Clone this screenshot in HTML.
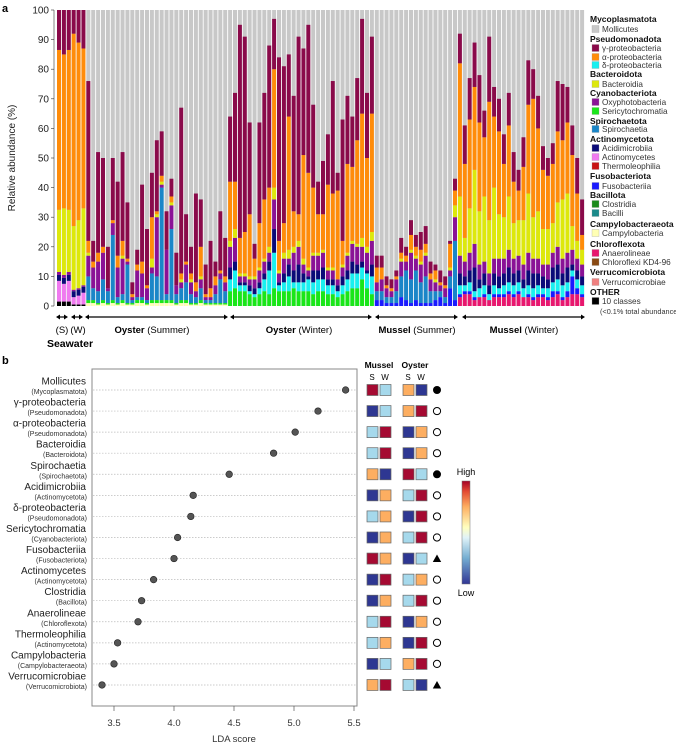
<!DOCTYPE html>
<html><head><meta charset="utf-8"><style>
body{margin:0;background:#fff;width:676px;height:743px;overflow:hidden;font-family:"Liberation Sans",sans-serif}
svg{display:block}
</style></head><body>
<svg id="fig" width="676" height="743" viewBox="0 0 676 743" font-family="Liberation Sans, sans-serif">
<text x="2" y="12" font-size="11" font-weight="bold">a</text>
<text x="2" y="364" font-size="11" font-weight="bold">b</text>
<g id="bars"></g>
<g id="yaxis"></g>
<text transform="translate(15,158) rotate(-90)" text-anchor="middle" font-size="10" fill="#222">Relative abundance (%)</text>
<g id="groups"></g>
<g id="legend"></g>
<g id="lda"></g>
<g id="heat"></g>
<defs><linearGradient id="cb" x1="0" y1="1" x2="0" y2="0">
<stop offset="0" stop-color="#313695"/><stop offset="0.25" stop-color="#74add1"/><stop offset="0.45" stop-color="#e0f3f8"/><stop offset="0.55" stop-color="#ffffbf"/><stop offset="0.75" stop-color="#fdae61"/><stop offset="0.9" stop-color="#e34a33"/><stop offset="1" stop-color="#a50026"/></linearGradient></defs>
<rect x="462" y="481" width="8" height="103" fill="url(#cb)" stroke="#777" stroke-width="0.5"/>
<text x="466" y="475" font-size="9" text-anchor="middle">High</text>
<text x="466" y="596" font-size="9" text-anchor="middle">Low</text>
</svg>
<script>
// Panel a data (108 samples): SW 6, Oyster Summer 29, Oyster Winter 30, Mussel Summer 17, Mussel Winter 26
const oth=[1.5,1.5,1.5,0.5,0.5,0.5, 0,0,0,0,0,0,0,0,0,0,0,0,0,0,0,0,0,0,0,0,0,0,0,0,0,0,0,0,0, 0,0,0,0,0,0,0,0,0,0,0,0,0,0,0,0,0,0,0,0,0,0,0,0,0,0,0,0,0,0, 0,0,0,0,0,0,0,0,0,0,0,0,0,0,0,0,0, 0,0,0,0,0,0,0,0,0,0,0,0,0,0,0,0,0,0,0,0,0,0,0,0,0,0];
const ana=[0,0,0,0,0,0, 0,0,0,0,0,0,0,0,0,0,0,0,0,0,0,0,0,0,0,0,0,0,0,0,0,0,0,0,0, 0,0,0,0,0,0,0,0,0,0,0,0,0,0,0,0,0,0,0,0,0,0,0,0,0,0,0,0,0,0, 0,0,0,0,0,0,0,0,0,0,0,0,0,0,0,0,0, 3,4,4,2,3,3,2,3,3,3,4,3,4,3,3,2,3,3,2,3,4,2,3,4,4,3];
const ser=[0,0,0,0,0,0, 1,1,0.5,1,0.5,1,0.5,1,0.5,0.5,1,1,0.5,1,1,1,1,1,0.5,1,1,0.5,0.5,1,0.5,0.5,0.5,0.5,0.5, 5,6,5,5,4,3,4,5,4,6,5,5,5,6,5,5,5,4,5,5,4,4,3,4,5,6,6,9,6,4, 0,0,0,0,0,0,0,0,0,0,0,0,0,0,0,0,0, 0,0,0,0,0,0,0,0,0,0,0,0,0,0,0,0,0,0,0,0,0,0,0,0,0,0];
const cam=[0,0,0,0,0,0, 1,1,0.5,1,0.5,1,0.5,1,0.5,0.5,1,1,0.5,1,1,1,1,1,0.5,1,1,0.5,0.5,1,0.5,0.5,0.5,0.5,0.5, 0,0,0,0,0,0,0,0,0,0,0,0,0,0,0,0,0,0,0,0,0,0,0,0,0,0,0,0,0,0, 0,0,0,0,0,0,0,0,0,0,0,0,0,0,0,0,0, 0,0,0,0,0,0,0,0,0,0,0,0,0,0,0,0,0,0,0,0,0,0,0,0,0,0];
const fus=[0,0,0,0,0,0, 0,0,0,0,0,0,0,0,0,0,0,0,0,0,0,0,0,0,0,0,0,0,0,0,0,0,0,0,0, 0,0,0,0,0,0,0,0,0,0,0,0,0,0,0,0,0,0,0,0,0,0,0,0,0,0,0,0,0,0, 2,2,1,1,1,3,2,1,2,1,1,1,2,3,1,6,2, 1,1,1,1,0,1,0,1,1,1,1,1,1,0,1,1,1,1,1,2,1,1,2,6,2,1];
const spi=[0,0,0,0,0,0, 8,4,4,7,4,22,2,2,13,1,1,1,1,9,8,38,2,24,3,4,6,3,2,4,1,1,3,8,4, 0,0,0,0,0,0,0,0,0,0,0,0,0,0,0,0,0,0,0,0,0,0,0,0,0,0,0,0,0,0, 3,3,2,2,4,7,10,8,10,7,9,4,3,2,2,4,20, 0,0,0,0,0,0,0,0,0,0,0,0,0,0,0,0,0,0,0,0,0,0,0,0,0,0];
const del=[0,0,0,0,0,0, 0,0,0,0,0,0,0,0,0,0,0,0,0,0,0,0,0,0,0,0,0,0,0,0,0,0,0,0,0, 4,6,2,2,1,1,2,4,8,12,2,3,5,2,3,3,4,4,4,4,3,3,2,3,4,5,5,4,5,6, 0,0,0,0,0,0,0,0,0,0,0,0,0,0,0,0,0, 3,2,3,2,3,3,2,3,2,3,3,3,3,3,3,3,3,2,3,3,4,4,3,2,3,3];
const act=[7,6,7,2.5,3,4, 0,0,0,0,0,0,0,0,0,0,0,0,0,0,0,0,0,0,0,0,0,0,0,0,0,0,0,0,0, 0,0,0,0,0,0,0,0,0,0,0,0,0,0,0,0,0,0,0,0,0,0,0,0,0,0,0,0,0,0, 0,0,0,0,0,0,0,0,0,0,0,0,0,0,0,0,0, 0,0,0,0,0,0,0,0,0,0,0,0,0,0,0,0,0,0,0,0,0,0,0,0,0,0];
const aci=[2,2,2,2,2,2, 0,0,0,0,0,0,0,0,0,0,0,0,0,0,0,0,0,0,0,0,0,0,0,0,0,0,0,0,0, 4,3,1,1,2,2,2,2,3,8,1,3,4,4,6,3,1,4,3,4,2,2,2,3,3,4,3,2,1,4, 0,0,0,0,0,0,0,0,0,0,0,0,0,0,0,0,0, 4,3,4,8,3,4,3,4,4,4,5,4,4,3,5,5,4,4,3,5,5,4,5,2,3,3];
const oxy=[1,1,1,0.5,0.5,0.5, 7,7,10,9,1,4,10,12,1,1,9,8,4,2,20,1,15,8,3,2,6,4,2,3,1,1,3,2,3, 7,8,2,2,2,3,4,4,3,10,3,5,2,6,6,3,2,5,5,5,3,3,2,3,5,6,6,5,6,8, 3,4,3,2,4,5,3,9,4,6,7,4,3,2,3,2,8, 6,5,6,8,5,4,4,5,6,5,6,5,5,5,6,5,5,4,5,5,6,5,5,5,4,4];
const bac=[21,22.5,21,21.5,23,26, 1,0,0,0,0,0,0,1,0,0,0,0,0,3,1,1,0,1,0,1,0,1,0,1,0,0,0,0,0, 2,3,1,1,1,1,1,1,2,4,1,2,3,2,2,2,1,1,1,1,1,1,0,1,1,1,1,3,2,3, 0,0,0,0,0,1,0,1,1,1,1,0,1,0,0,1,4, 20,8,15,25,18,22,18,24,15,14,18,12,12,15,20,14,16,12,12,10,15,20,20,8,6,5];
const alp=[54,52,54,65,60,54, 4,2,3,2,0,1,4,5,1,1,2,4,1,14,1,2,0,2,0,2,1,2,3,10,1,3,3,1,2, 20,16,12,14,21,6,15,20,20,40,10,10,45,12,9,35,32,22,13,12,28,25,30,8,30,25,35,42,30,40, 5,4,1,1,1,2,2,5,3,4,3,2,3,1,1,8,5, 45,25,30,28,30,20,40,24,28,18,24,14,10,18,30,40,28,20,18,20,24,20,24,24,16,5];
const gam=[13.5,15,13.5,8,11,13, 54,7,34,30,14,21,25,30,19,4,5,26,19,15,24,15,13,6,11,56,16,9,30,16,10,16,5,20,13, 22,30,72,66,31,5,34,36,48,17,62,53,21,39,60,36,50,28,11,18,17,38,6,41,23,17,21,32,22,26, 4,4,3,3,2,5,3,5,4,6,6,4,2,4,3,1,4, 10,13,14,15,16,9,22,10,11,10,11,10,7,10,15,10,11,8,6,7,17,19,12,10,12,12];
const yTicks=[0,10,20,30,40,50,60,70,80,90,100];
const series=[["oth",oth,"#000000"],["ana",ana,"#e8176e"],["cam",cam,"#ffffb4"],["ser",ser,"#19e619"],["fus",fus,"#1a1aff"],["spi",spi,"#1a86c8"],["del",del,"#19f0f0"],["act",act,"#f07af0"],["aci",aci,"#0a0a78"],["oxy",oxy,"#8a1296"],["bac",bac,"#dde80c"],["alp",alp,"#ff8c0a"],["gam",gam,"#8a0a4a"]];
const NS='http://www.w3.org/2000/svg';
function mk(tag,at,parent){const e=document.createElementNS(NS,tag);for(const k in at)e.setAttribute(k,at[k]);parent.appendChild(e);return e;}
const X0=57,X1=585,Y0=306,Y1=10;
const nBars=gam.length,pitch=(X1-X0)/nBars;
function xb(i){return X0+i*pitch;}
function ya(v){return Y0-(v/100)*(Y0-Y1);}
const gb=document.getElementById('bars');
for(let i=0;i<nBars;i++){
  const bg=mk('rect',{x:xb(i),y:ya(100),width:pitch-0.9,height:ya(0)-ya(100),fill:'#c8c8c8'},gb);
  
  
  let cum=0;
  for(const [nm,arr,col] of series){
    const v=arr[i];if(!v){continue;}
    const r=mk('rect',{x:xb(i),y:ya(cum+v),width:pitch-0.9,height:ya(cum)-ya(cum+v),fill:col},gb);
    
    
    cum+=v;
  }
}
const gy=document.getElementById('yaxis');
mk('line',{x1:54,y1:ya(0),x2:54,y2:ya(100),stroke:'#333','stroke-width':0.6},gy);
for(const t of yTicks){
  mk('line',{x1:51,y1:ya(t),x2:54,y2:ya(t),stroke:'#333','stroke-width':0.6},gy);
  const tx=mk('text',{x:49,y:ya(t)+3.5,'font-size':10,'text-anchor':'end',fill:'#222'},gy);tx.textContent=t;
  
  
}
const gg=document.getElementById('groups');
const arrows=[[56,68],[71,83],[85,228],[230,372],[375,458],[462,585]];
for(const [a,b] of arrows){
  mk('line',{x1:a+2,y1:317,x2:b-2,y2:317,stroke:'#000','stroke-width':1.2},gg);
  mk('path',{d:`M${a},317 l4,-2.5 v5z M${b},317 l-4,-2.5 v5z`,fill:'#000'},gg);
}
gg.insertAdjacentHTML('beforeend',`
<text x="62" y="333" font-size="9.5" text-anchor="middle">(S)</text>
<text x="78" y="333" font-size="9.5" text-anchor="middle">(W)</text>
<text x="70" y="347" font-size="10.5" font-weight="bold" text-anchor="middle">Seawater</text>
<text x="152" y="333" font-size="9.5" text-anchor="middle"><tspan font-weight="bold">Oyster</tspan> (Summer)</text>
<text x="299" y="333" font-size="9.5" text-anchor="middle"><tspan font-weight="bold">Oyster</tspan> (Winter)</text>
<text x="417" y="333" font-size="9.5" text-anchor="middle"><tspan font-weight="bold">Mussel</tspan> (Summer)</text>
<text x="524" y="333" font-size="9.5" text-anchor="middle"><tspan font-weight="bold">Mussel</tspan> (Winter)</text>`);
const leg=[["h","Mycoplasmatota",19],["#c8c8c8","Mollicutes",29],["h","Pseudomonadota",39],["#8a0a4a","γ-proteobacteria",48],["#ff8c0a","α-proteobacteria",57],["#19f0f0","δ-proteobacteria",65],["h","Bacteroidota",74],["#dde80c","Bacteroidia",84],["h","Cyanobacteriota",93],["#8a1296","Oxyphotobacteria",102],["#19e619","Sericytochromatia",111],["h","Spirochaetota",121],["#1a86c8","Spirochaetia",129],["h","Actinomycetota",139],["#0a0a78","Acidimicrobiia",148],["#f07af0","Actinomycetes",157],["#c81414","Thermoleophilia",166],["h","Fusobacteriota",176],["#1a1aff","Fusobacteriia",186],["h","Bacillota",195],["#1a8a1a","Clostridia",204],["#1a8a8a","Bacilli",213],["h","Campylobacteraeota",224],["#ffffb4","Campylobacteria",233],["h","Chloroflexota",244],["#e8176e","Anaerolineae",253],["#8a4a14","Chloroflexi KD4-96",262],["h","Verrucomicrobiota",272],["#f08080","Verrucomicrobiae",282],["h","OTHER",292],["#000000","10 classes",301],["n","(<0.1% total abundance)",311]];
const gl=document.getElementById('legend');
for(const [c,t,y] of leg){
  let tx;
  if(c==="h"){tx=mk('text',{x:590,y:y+3,'font-size':8.5,'font-weight':'bold',fill:'#111'},gl);}
  else{
    if(c!=="n"){const s=mk('rect',{x:592,y:y-3.5,width:7,height:7,fill:c,stroke:'#999','stroke-width':0.3},gl);
      
      }
    tx=mk('text',{x:c==="n"?600:602,y:y+3,'font-size':c==="n"?7.3:8.2,fill:'#333'},gl);
  }
  tx.textContent=t;
  
  
}
// Panel b data
const taxa=["Mollicutes","γ-proteobacteria","α-proteobacteria","Bacteroidia","Spirochaetia","Acidimicrobiia","δ-proteobacteria","Sericytochromatia","Fusobacteriia","Actinomycetes","Clostridia","Anaerolineae","Thermoleophilia","Campylobacteria","Verrucomicrobiae"];
const phyla=["Mycoplasmatota","Pseudomonadota","Pseudomonadota","Bacteroidota","Spirochaetota","Actinomycetota","Pseudomonadota","Cyanobacteriota","Fusobacteriota","Actinomycetota","Bacillota","Chloroflexota","Actinomycetota","Campylobacteraeota","Verrucomicrobiota"];
const lda=[5.43,5.2,5.01,4.83,4.46,4.16,4.14,4.03,4.0,3.83,3.73,3.7,3.53,3.5,3.4];
const ldaTicks=[3.5,4.0,4.5,5.0,5.5];
const heatMS=["R","DB","LB","LB","O","DB","LB","DB","R","DB","DB","LB","LB","DB","O"];
const heatMW=["LB","LB","R","R","DB","O","O","O","O","R","O","R","O","LB","R"];
const heatOS=["O","O","DB","DB","R","LB","DB","LB","DB","LB","LB","DB","DB","O","LB"];
const heatOW=["DB","R","O","O","LB","R","R","R","LB","O","R","O","R","R","DB"];
const marks=["fc","oc","oc","oc","fc","oc","oc","oc","tr","oc","oc","oc","oc","oc","tr"];
const hc={R:"#a50a32",DB:"#2e3792",LB:"#a6d9ec",O:"#fdae61"};
function xl(v){return 114+(v-3.5)*120;}
function yr(i){return 390+i*21.07;}
const gd=document.getElementById('lda');
mk('rect',{x:92,y:369,width:265,height:337,fill:'none',stroke:'#888','stroke-width':1},gd);
for(const t of ldaTicks){
  mk('line',{x1:xl(t),y1:706,x2:xl(t),y2:711,stroke:'#555','stroke-width':0.7},gd);
  const tx=mk('text',{x:xl(t),y:726,'font-size':9.5,'text-anchor':'middle',fill:'#333'},gd);tx.textContent=t.toFixed(1);
  
  
}
const xt=mk('text',{x:234,y:742,'font-size':9.5,'text-anchor':'middle',fill:'#333'},gd);xt.textContent='LDA score';


for(let i=0;i<taxa.length;i++){
  const y=yr(i);
  mk('line',{x1:93,y1:y,x2:356,y2:y,stroke:'#bbb','stroke-width':0.7,'stroke-dasharray':'1.5,1.5'},gd);
  const n=mk('text',{x:86,y:y-5.5,'font-size':10,'text-anchor':'end',fill:'#222'},gd);n.textContent=taxa[i];
  
  
  const p=mk('text',{x:87,y:y+4,'font-size':7,'text-anchor':'end',fill:'#333'},gd);p.textContent='('+phyla[i]+')';
  
  
  const c=mk('circle',{cx:xl(lda[i]),cy:y,r:3.3,fill:'#555',stroke:'#222','stroke-width':0.6},gd);
  
  
}
const gh=document.getElementById('heat');
gh.insertAdjacentHTML('beforeend',`<text x="379" y="368" font-size="8.5" font-weight="bold" text-anchor="middle">Mussel</text>
<text x="415" y="368" font-size="8.5" font-weight="bold" text-anchor="middle">Oyster</text>
<text x="372" y="380" font-size="8" text-anchor="middle">S</text><text x="385" y="380" font-size="8" text-anchor="middle">W</text>
<text x="408" y="380" font-size="8" text-anchor="middle">S</text><text x="421" y="380" font-size="8" text-anchor="middle">W</text>`);
const cols=[[367,heatMS],[380,heatMW],[403,heatOS],[416,heatOW]];
for(let i=0;i<taxa.length;i++){
  const y=yr(i);
  for(const [x,arr] of cols){
    const r=mk('rect',{x:x,y:y-5.5,width:11,height:11,fill:hc[arr[i]],stroke:'#666','stroke-width':0.7},gh);
    
    
  }
  let m;
  if(marks[i]==="fc")m=mk('circle',{cx:437,cy:y,r:4,fill:'#000'},gh);
  else if(marks[i]==="oc")m=mk('circle',{cx:437,cy:y,r:3.6,fill:'#fff',stroke:'#000','stroke-width':1},gh);
  else m=mk('path',{d:`M437,${y-4} l4.2,7.5 h-8.4z`,fill:'#000'},gh);
  
  
}
</script>
</body></html>
